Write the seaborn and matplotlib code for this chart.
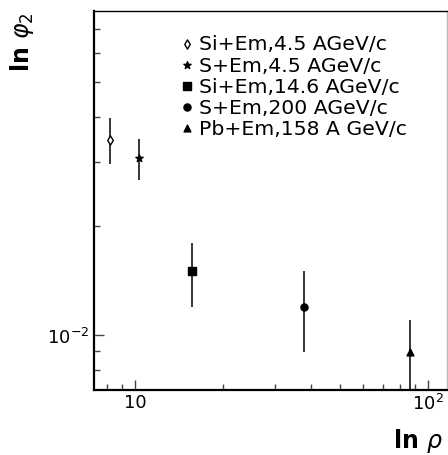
import numpy as np
import pandas as pd
import matplotlib
matplotlib.use("Agg")
import matplotlib.pyplot as plt
import matplotlib.ticker as mticker
import seaborn as sns

# data (ln rho vs ln phi2, log-log)
labels = ["Si+Em,4.5 AGeV/c", "S+Em,4.5 AGeV/c", "Si+Em,14.6 AGeV/c",
          "S+Em,200 AGeV/c", "Pb+Em,158 A GeV/c"]
rho = [8.24, 10.29, 15.7, 37.7, 86.6]
phi2 = [0.0346, 0.0307, 0.01495, 0.01196, 0.00897]
phi2_err = [0.0050, 0.0040, 0.0030, 0.0030, 0.0020]

markers = ["d", "*", "s", "o", "^"]
sizes = [22, 30, 26, 26, 24]
faces = ["white", "black", "black", "black", "black"]

df = pd.DataFrame({"rho": rho, "phi2": phi2, "err": phi2_err, "label": labels})

sns.set_style("ticks", rc={"text.color": "black", "xtick.color": "black",
                           "ytick.color": "black", "axes.labelcolor": "black"})
plt.rcParams["font.family"] = ["DejaVu Sans"]

fig = plt.figure(figsize=(4.48, 4.56), dpi=100)
ax = fig.add_axes([94 / 448, 1 - 391 / 456, (447 - 94) / 448, (391 - 12) / 456])
ax.set_xscale("log")
ax.set_yscale("log")

ax.errorbar(df["rho"], df["phi2"], yerr=df["err"], fmt="none",
            ecolor="black", elinewidth=1.1, capsize=0, zorder=2)

for i, row in df.iterrows():
    sns.scatterplot(x=[row["rho"]], y=[row["phi2"]], marker=markers[i], s=sizes[i],
                    color=faces[i], edgecolor="black", linewidth=1.0,
                    label=row["label"], ax=ax, zorder=3)

ax.set_xlim(7.24, 116.1)
ax.set_ylim(0.00703, 0.0785)

ax.xaxis.set_major_locator(mticker.FixedLocator([10, 100]))
ax.xaxis.set_major_formatter(mticker.FixedFormatter(["10", "$10^{2}$"]))
ax.xaxis.set_minor_locator(mticker.LogLocator(base=10, subs=np.arange(2, 10)))
ax.xaxis.set_minor_formatter(mticker.NullFormatter())
ax.yaxis.set_major_locator(mticker.FixedLocator([0.01]))
ax.yaxis.set_major_formatter(mticker.FixedFormatter(["$10^{-2}$"]))
ax.yaxis.set_minor_locator(mticker.LogLocator(base=10, subs=np.arange(2, 10)))
ax.yaxis.set_minor_formatter(mticker.NullFormatter())

ax.tick_params(which="both", direction="in", color="#444444", width=1.0,
               labelsize=13, labelcolor="black")
ax.tick_params(axis="x", which="major", length=7, pad=2)
ax.tick_params(axis="y", which="major", length=7, pad=3)
ax.tick_params(which="minor", length=4.5)
ax.tick_params(axis="y", which="both", right=False)
ax.tick_params(axis="x", which="both", top=False)

for side in ["left", "bottom"]:
    ax.spines[side].set_linewidth(1.6)
    ax.spines[side].set_color("black")
ax.spines["top"].set_linewidth(1.0)
ax.spines["top"].set_color("black")
ax.spines["right"].set_linewidth(1.0)
ax.spines["right"].set_color("#bbbbbb")

ax.set_xlabel("")
ax.set_ylabel("")

ax.legend(loc="upper left", bbox_to_anchor=(178.5 / 448, 1 - 35.5 / 456),
          bbox_transform=fig.transFigure, frameon=False, fontsize=14.7,
          handlelength=0.8, handletextpad=0.2, labelspacing=0.1,
          borderpad=0, borderaxespad=0)

fig.text(22 / 448, 1 - 12 / 456, r"ln $\varphi_{2}$", rotation=90,
         ha="center", va="top", fontsize=17, fontweight="bold")
fig.text(443 / 448, 1 - 441 / 456, r"ln $\rho$", ha="right", va="center",
         fontsize=17, fontweight="bold")

fig.savefig("out.png", dpi=100)
